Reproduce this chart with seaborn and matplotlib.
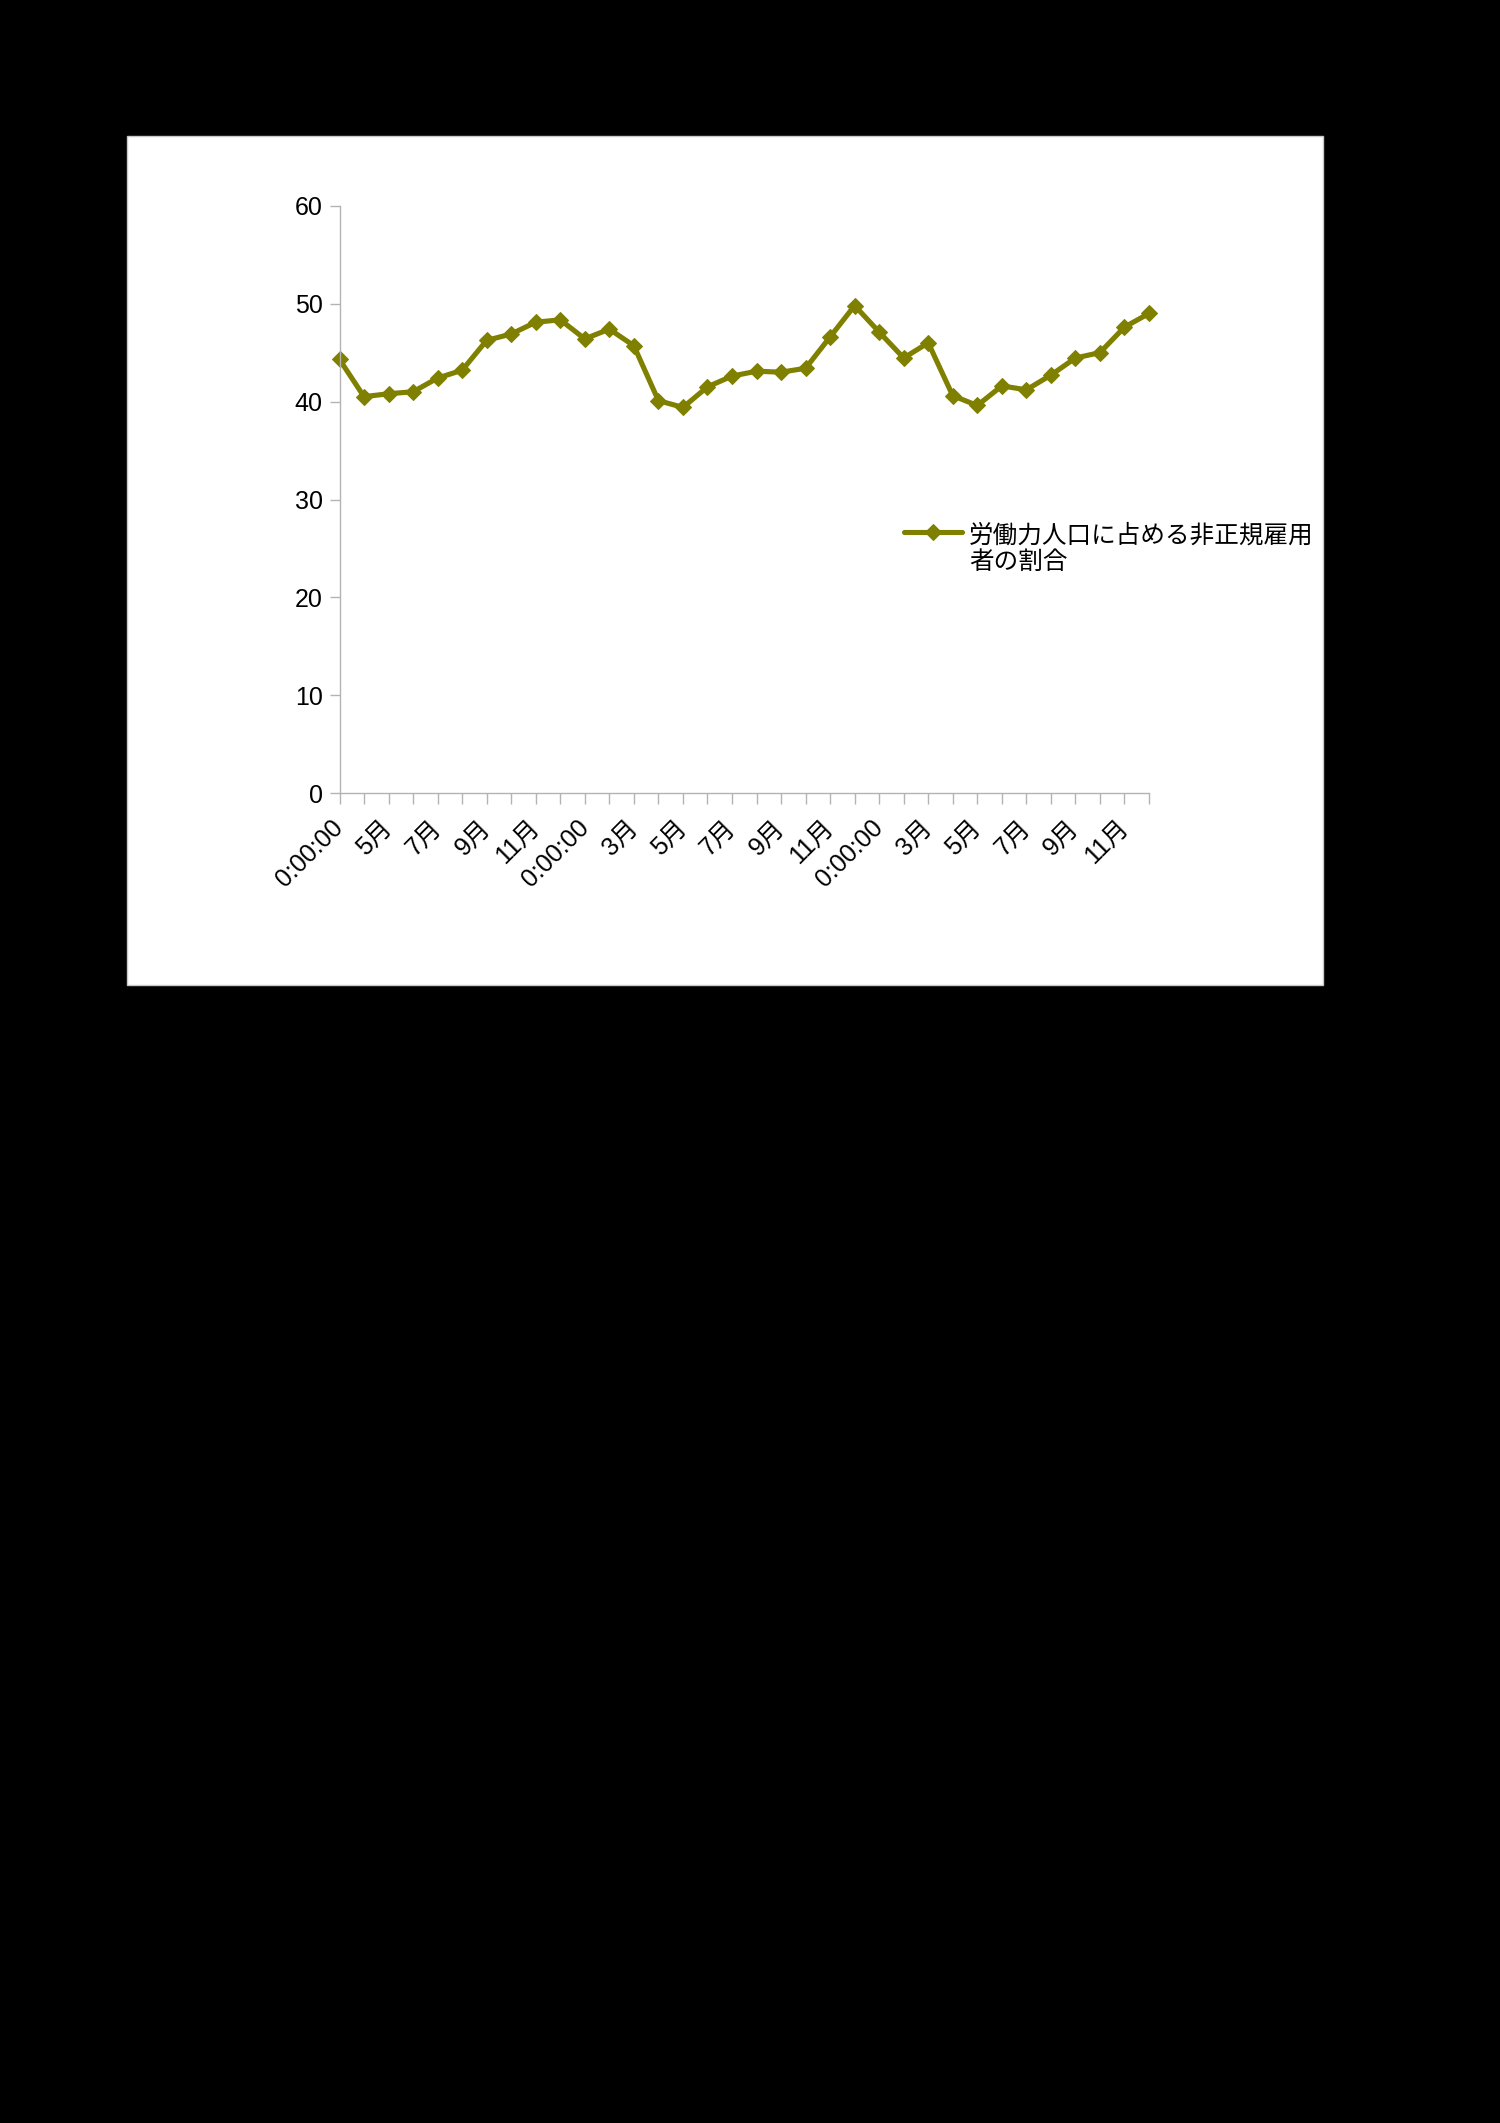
import matplotlib
matplotlib.use("Agg")
import matplotlib.pyplot as plt
import matplotlib.patches as mpatches
import seaborn as sns
import pandas as pd
import numpy as np

# ---- data ----
tick_labels = ["0:00:00", "", "5月", "", "7月", "", "9月", "", "11月", "",
               "0:00:00", "", "3月", "", "5月", "", "7月", "", "9月", "", "11月", "",
               "0:00:00", "", "3月", "", "5月", "", "7月", "", "9月", "", "11月", ""]
values = [44.3, 40.5, 40.8, 41.0, 42.4, 43.2, 46.25, 46.9, 48.1, 48.35,
          46.4, 47.4, 45.7, 40.1, 39.4, 41.5, 42.6, 43.1, 43.0, 43.4,
          46.6, 49.8, 47.1, 44.45, 46.0, 40.6, 39.6, 41.6, 41.2, 42.7,
          44.45, 45.0, 47.6, 49.0]
series_name = "労働力人口に占める非正規雇用\n者の割合"
y_ticks = [0, 10, 20, 30, 40, 50, 60]

df = pd.DataFrame({"idx": np.arange(len(values)), "value": values})

sns.set_theme(style="white")
plt.rcParams['font.family'] = ['Liberation Sans', 'Noto Sans CJK JP', 'DejaVu Sans']

W, H = 1500, 2123
fig = plt.figure(figsize=(W / 100, H / 100), dpi=100)
fig.patch.set_facecolor("black")

# white chart area
rect = mpatches.Rectangle((127 / W, 1 - 985 / H), (1323 - 127) / W, (985 - 136) / H,
                          transform=fig.transFigure, facecolor="white",
                          edgecolor="#c8c8c8", linewidth=1, zorder=-5)
fig.patches.append(rect)

ax = fig.add_axes([339.5 / W, 1 - 793.3 / H, (1149 - 339.5) / W, (793.3 - 205.7) / H])
ax.set_facecolor("none")
ax.set_zorder(2)

color = "#808000"
sns.lineplot(data=df, x="idx", y="value", ax=ax, color=color, linewidth=3.7,
             marker="D", markersize=8.5, markeredgecolor=color,
             markerfacecolor=color, label=series_name, clip_on=False)

ax.set_xlim(0, len(values) - 1)
ax.set_ylim(0, 60)
ax.set_yticks(y_ticks)
ax.set_yticklabels([str(v) for v in y_ticks])
ax.set_xticks(np.arange(len(values)))
ax.set_xticklabels(tick_labels, rotation=45, ha="right", va="center",
                   rotation_mode="anchor")
ax.set_xlabel("")
ax.set_ylabel("")

gray = "#b3b3b3"
for s in ["top", "right"]:
    ax.spines[s].set_visible(False)
for s in ["left", "bottom"]:
    ax.spines[s].set_color(gray)
    ax.spines[s].set_linewidth(1.0)
ax.tick_params(axis="x", length=8, width=1, color=gray, direction="out",
               labelsize=18, pad=14, labelcolor="black", bottom=True)
ax.tick_params(axis="y", length=7, width=1, color=gray, direction="out",
               labelsize=18, pad=5, labelcolor="black", left=True)
ax.grid(False)

leg = ax.legend(loc="upper left", bbox_to_anchor=(904 / W, 1 - 523 / H),
                bbox_transform=fig.transFigure, frameon=False,
                prop={"family": ["Noto Sans CJK JP", "DejaVu Sans"], "size": 17.7},
                handlelength=2.35, handletextpad=0.3, labelspacing=0.2,
                borderpad=0, borderaxespad=0)
for t in leg.get_texts():
    t.set_linespacing(1.0)
    t.set_color("black")
# align the handle with the first text line
for col in leg._legend_handle_box.get_children():
    for row in col.get_children():
        row.align = "top"

fig.savefig("out.png", dpi=100, facecolor=fig.get_facecolor())
